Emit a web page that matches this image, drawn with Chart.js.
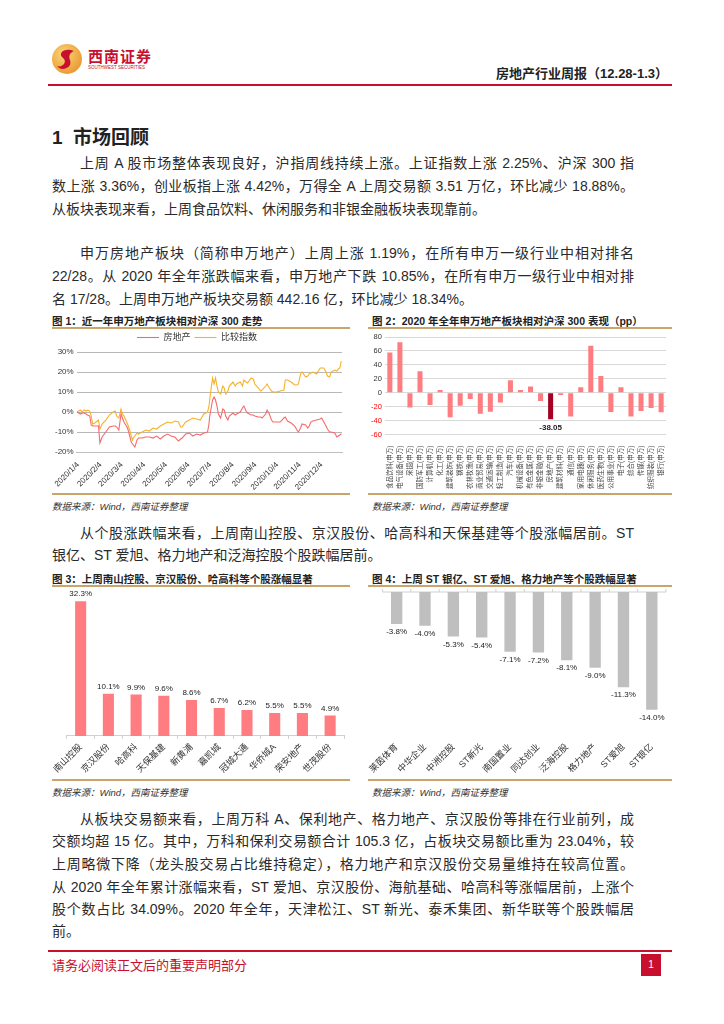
<!DOCTYPE html>
<html lang="zh">
<head>
<meta charset="utf-8">
<title>房地产行业周报</title>
<script src="https://cdn.jsdelivr.net/npm/chart.js@4.4.0/dist/chart.umd.min.js"></script>
<style>
  html, body { margin: 0; padding: 0; background: #fff; }
  body { width: 724px; height: 1024px; position: relative; overflow: hidden;
         font-family: "Liberation Sans", "Noto Sans CJK SC", sans-serif; color: #222; }
  .abs { position: absolute; }
  .ln { position: absolute; left: 52px; width: 582px; font-size: 14px; line-height: 18px;
        color: #2a2a2a; white-space: nowrap; text-align: justify; text-align-last: justify; }
  .ln.ind { left: 80px; width: 554px; }
  .ln.end { text-align-last: left; }
  .figt { position: absolute; font-size: 10.5px; font-weight: bold; white-space: nowrap; }
  .gold { position: absolute; height: 2px; background: #C9A46B; }
  .src { position: absolute; font-size: 9.5px; font-style: italic; color: #333; white-space: nowrap; }
  .box { position: absolute; }
</style>
</head>
<body>

<!-- header -->
<svg class="abs" style="left:51px;top:43px" width="32" height="32" viewBox="0 0 32 32">
  <defs>
    <radialGradient id="g" cx="40%" cy="35%" r="70%">
      <stop offset="0" stop-color="#FBD77A"/>
      <stop offset="1" stop-color="#E9962F"/>
    </radialGradient>
  </defs>
  <circle cx="16" cy="16" r="15" fill="url(#g)"/>
  <path d="M23 8 C14 4 6 10 12 15 C17 19 11 25 6 23 C10 29 22 25 19 17 C17 12 20 9 23 8 Z" fill="#C8102E"/>
</svg>
<div class="abs" style="left:88px;top:45px;font-size:15px;font-weight:bold;color:#C8102E;letter-spacing:1px">西南证券</div>
<div class="abs" style="left:88px;top:65px;font-size:4.5px;color:#C8102E;white-space:nowrap">SOUTHWEST SECURITIES</div>
<div class="abs" style="right:56px;top:63px;font-size:13px;font-weight:bold;white-space:nowrap">房地产行业周报（12.28-1.3）</div>
<div class="abs" style="left:48px;top:84px;width:624px;height:1.5px;background:#C8102E"></div>

<!-- section 1 -->
<div class="abs" style="left:52px;top:122px;font-size:19px;font-weight:bold;white-space:nowrap">1&nbsp;&nbsp;市场回顾</div>

<div class="ln ind" style="top:154px">上周 A 股市场整体表现良好，沪指周线持续上涨。上证指数上涨 2.25%、沪深 300 指</div>
<div class="ln" style="top:177px">数上涨 3.36%，创业板指上涨 4.42%，万得全 A 上周交易额 3.51 万亿，环比减少 18.88%。</div>
<div class="ln end" style="top:200px">从板块表现来看，上周食品饮料、休闲服务和非银金融板块表现靠前。</div>

<div class="ln ind" style="top:244px">申万房地产板块（简称申万地产）上周上涨 1.19%，在所有申万一级行业中相对排名</div>
<div class="ln" style="top:267px">22/28。从 2020 年全年涨跌幅来看，申万地产下跌 10.85%，在所有申万一级行业中相对排</div>
<div class="ln end" style="top:290px">名 17/28。上周申万地产板块交易额 442.16 亿，环比减少 18.34%。</div>

<!-- figure 1 / 2 -->
<div class="figt" style="left:52px;top:313px">图 1：近一年申万地产板块相对沪深 300 走势</div>
<div class="figt" style="left:372px;top:313px">图 2：2020 年全年申万地产板块相对沪深 300 表现（pp）</div>
<div class="gold" style="left:52px;top:327px;width:298px"></div>
<div class="gold" style="left:368px;top:327px;width:304px"></div>
<div class="box" style="left:52px;top:329px;width:298px;height:163px"><canvas id="c1"></canvas></div>
<div class="box" style="left:368px;top:329px;width:304px;height:163px"><canvas id="c2"></canvas></div>
<div class="gold" style="left:52px;top:493px;width:298px"></div>
<div class="gold" style="left:368px;top:493px;width:304px"></div>
<div class="src" style="left:52px;top:499px">数据来源：Wind，西南证券整理</div>
<div class="src" style="left:372px;top:499px">数据来源：Wind，西南证券整理</div>

<div class="ln ind" style="top:524px">从个股涨跌幅来看，上周南山控股、京汉股份、哈高科和天保基建等个股涨幅居前。ST</div>
<div class="ln end" style="top:546px">银亿、ST 爱旭、格力地产和泛海控股个股跌幅居前。</div>

<!-- figure 3 / 4 -->
<div class="figt" style="left:52px;top:571px">图 3：上周南山控股、京汉股份、哈高科等个股涨幅显著</div>
<div class="figt" style="left:372px;top:571px">图 4：上周 ST 银亿、ST 爱旭、格力地产等个股跌幅显著</div>
<div class="gold" style="left:52px;top:585px;width:298px"></div>
<div class="gold" style="left:368px;top:585px;width:304px"></div>
<div class="box" style="left:52px;top:588px;width:298px;height:190px"><canvas id="c3"></canvas></div>
<div class="box" style="left:368px;top:588px;width:304px;height:190px"><canvas id="c4"></canvas></div>
<div class="gold" style="left:52px;top:779px;width:298px"></div>
<div class="gold" style="left:368px;top:779px;width:304px"></div>
<div class="src" style="left:52px;top:785px">数据来源：Wind，西南证券整理</div>
<div class="src" style="left:372px;top:785px">数据来源：Wind，西南证券整理</div>

<div class="ln ind" style="top:810px">从板块交易额来看，上周万科 A、保利地产、格力地产、京汉股份等排在行业前列，成</div>
<div class="ln" style="top:832px">交额均超 15 亿。其中，万科和保利交易额合计 105.3 亿，占板块交易额比重为 23.04%，较</div>
<div class="ln" style="top:855px">上周略微下降（龙头股交易占比维持稳定），格力地产和京汉股份交易量维持在较高位置。</div>
<div class="ln" style="top:878px">从 2020 年全年累计涨幅来看，ST 爱旭、京汉股份、海航基础、哈高科等涨幅居前，上涨个</div>
<div class="ln" style="top:900px">股个数占比 34.09%。2020 年全年，天津松江、ST 新光、泰禾集团、新华联等个股跌幅居</div>
<div class="ln end" style="top:922px">前。</div>

<!-- footer -->
<div class="abs" style="left:48px;top:950px;width:624px;height:1.5px;background:#C8102E"></div>
<div class="abs" style="left:52px;top:955px;font-size:13px;color:#C8102E;white-space:nowrap">请务必阅读正文后的重要声明部分</div>
<div class="abs" style="left:641px;top:954px;width:20px;height:22px;background:#C8102E;color:#fff;font-size:10px;line-height:22px;text-align:center">1</div>

<script>
// ---- Figure 1: 申万地产 vs 沪深300 (daily) ----
const ch1Dates = [
  '1/2','1/5','1/7','1/10','1/12','1/15','1/17','1/20','1/22','1/24',
  '1/27','2/1','2/3','2/6','2/11','2/16','2/21','2/24','2/26','2/29',
  '3/3','3/5','3/7','3/12','3/15','3/17','3/19','3/20','3/22','3/25',
  '3/27','4/1','4/6','4/11','4/16','4/21','4/26','5/1','5/6','5/11',
  '5/16','5/21','5/24','5/26','5/31','6/5','6/10','6/15','6/20','6/25',
  '6/30','7/2','7/3','7/5','7/7','7/9','7/11','7/13','7/15','7/18',
  '7/21','7/23','7/25','7/28','7/30','8/4','8/7','8/9','8/14','8/17',
  '8/19','8/22','8/24','8/29','9/1','9/3','9/8','9/11','9/13','9/18',
  '9/20','9/23','9/26','9/28','10/3','10/8','10/13','10/15','10/18','10/23',
  '10/28','10/31','11/2','11/5','11/7','11/12','11/15','11/17','11/19','11/22',
  '11/27','12/2','12/4','12/7','12/10','12/12','12/15','12/17','12/22','12/25',
  '12/27','12/29','12/31'
];
const realEstate = [
  0, -0.5, -1, -0.5, -0.5, -1, -1.5, -2, -6.5, -7,
  -7, -7, -15.5, -12.5, -10, -7.5, -7, -7, -7.5, -9,
  -1, -3, -5, -8, -12, -15, -16, -16.5, -17.5, -14,
  -13, -13, -12.5, -12.5, -13, -12, -13.5, -12, -11, -12,
  -12.5, -14.5, -13.5, -13, -11, -10.5, -12, -11, -11.5, -10.5,
  -10, -6, -2, 2, 6, 7.5, 6, 3, -1, -3,
  1.5, 1, -2, -4, -2, -0.5, -1.5, -1, 0, 2,
  3, 0.5, -0.5, -1.5, -1.5, -2, -2.5, -2.5, -3, -1,
  1, -1, -4, -5, -5, -5, -3, -2.5, -4.5, -5.5,
  -7, -9, -10, -8, -6, -6.5, -8, -7, -5, -4.5,
  -4, -3.5, -3, -5, -7, -8.5, -10, -10, -10.5, -12.5,
  -12, -11.5, -10.85
];
const compareIdx = [
  0, 0.5, 1, 0, 1, 0.5, 1, 0.5, -2, -6,
  -5.5, -4, -8.5, -6, -4, -1.5, 0, 0.5, -2, -3,
  1.5, -1, -2, -6, -9, -12, -14, -13, -12, -10.5,
  -11, -10, -9, -9.5, -8, -8.5, -7, -6, -5, -5.5,
  -4.5, -5, -7.5, -7.5, -5, -4, -3, -3.5, -4, -1,
  0, 3, 6, 12, 17, 14, 17, 13, 10, 9,
  13, 12, 9, 10.5, 13, 15, 13, 14, 15, 13,
  16, 15, 14.5, 17, 16.5, 14, 12, 10.5, 11, 13,
  14, 12, 10.5, 10, 10, 10.5, 11, 16, 16, 15,
  13.5, 13.5, 14, 19, 20, 17.5, 18, 19, 19.5, 20,
  19, 22, 22, 22, 20, 18, 17.5, 20, 21, 20.5,
  21.5, 22, 25.5
];
const ch1TickLabels = ['2020/1/4','2020/2/4','2020/3/4','2020/4/4','2020/5/4','2020/6/4',
  '2020/7/4','2020/8/4','2020/9/4','2020/10/4','2020/11/4','2020/12/4'];

// ---- Figure 2: 2020 申万一级行业相对沪深300 (pp) ----
const industries = ['食品饮料(申万)','电气设备(申万)','采掘(申万)','国防军工(申万)','计算机(申万)',
  '化工(申万)','建筑装饰(申万)','钢铁(申万)','农林牧渔(申万)','商业贸易(申万)','交通运输(申万)',
  '轻工制造(申万)','汽车(申万)','机械设备(申万)','有色金属(申万)','非银金融(申万)','房地产(申万)',
  '建筑材料(申万)','通信(申万)','家用电器(申万)','休闲服务(申万)','医药生物(申万)','公用事业(申万)',
  '电子(申万)','综合(申万)','传媒(申万)','纺织服装(申万)','银行(申万)'];
const industryRel = [57.9, 72.6, -21, 31, -17.5, 3.9, -35, -18.6, -9, -30, -27, -14, 18, 4, 9,
  -11.7, -38.05, -3, -34, 7.8, 67.6, 24, -27.6, 7.8, -34, -26, -21.7, -28];
const highlightIndustry = '房地产(申万)';

// ---- Figure 3 / 4: 个股周涨跌幅 (%) ----
const gainers = ['南山控股','京汉股份','哈高科','天保基建','新黄浦','嘉凯城','冠城大通','华侨城A','荣安地产','世茂股份'];
const gainPct = [32.3, 10.1, 9.9, 9.6, 8.6, 6.7, 6.2, 5.5, 5.5, 4.9];
const losers = ['莱茵体育','中华企业','中洲控股','ST新光','南国置业','同达创业','泛海控股','格力地产','ST爱旭','ST银亿'];
const lossPct = [-3.8, -4.0, -5.3, -5.4, -7.1, -7.2, -8.1, -9.0, -11.3, -14.0];

Chart.defaults.font.family = '"Liberation Sans", "Noto Sans CJK SC", sans-serif';
Chart.defaults.color = '#333';
Chart.defaults.animation = false;

function dayOfYear(md) {
  const p = md.split('/').map(Number);
  return (Date.UTC(2020, p[0] - 1, p[1]) - Date.UTC(2020, 0, 1)) / 864e5 + 1;
}
const ch1TickDays = ch1TickLabels.map(s => dayOfYear(s.slice(5)));

// value labels on bars
function barLabels(fmt, font, onlyIndex) {
  return {
    id: 'barLabels',
    afterDatasetsDraw(chart) {
      const ctx = chart.ctx;
      const ds = chart.data.datasets[0];
      ctx.save();
      ctx.font = font;
      ctx.fillStyle = '#222';
      ctx.textAlign = 'center';
      chart.getDatasetMeta(0).data.forEach((bar, i) => {
        if (onlyIndex !== undefined && i !== onlyIndex) return;
        const v = ds.data[i];
        if (v >= 0) { ctx.textBaseline = 'bottom'; ctx.fillText(fmt(v), bar.x, bar.y - 3); }
        else { ctx.textBaseline = 'top'; ctx.fillText(fmt(v), bar.x, bar.y + 4); }
      });
      ctx.restore();
    }
  };
}

// zero line with small category ticks (figure 4 hangs from the top)
const zeroLine = {
  id: 'zeroLine',
  beforeDatasetsDraw(chart) {
    const x = chart.scales.x, y = chart.scales.y;
    const y0 = y.getPixelForValue(0);
    const n = chart.data.labels.length;
    const ctx = chart.ctx;
    ctx.save();
    ctx.strokeStyle = '#D0D0D0';
    ctx.lineWidth = 1;
    ctx.beginPath();
    ctx.moveTo(x.left, y0); ctx.lineTo(x.right, y0);
    for (let i = 0; i <= n; i++) {
      const px = x.left + i * x.width / n;
      ctx.moveTo(px, y0); ctx.lineTo(px, y0 - 3);
    }
    ctx.stroke();
    ctx.restore();
  }
};

// Figure 1
new Chart(document.getElementById('c1'), {
  type: 'line',
  data: {
    datasets: [
      { label: '房地产', data: ch1Dates.map((d, i) => ({ x: dayOfYear(d), y: realEstate[i] })),
        borderColor: '#F8696B', borderWidth: 1.1, pointRadius: 0, tension: 0 },
      { label: '比较指数', data: ch1Dates.map((d, i) => ({ x: dayOfYear(d), y: compareIdx[i] })),
        borderColor: '#F5B22A', borderWidth: 1.1, pointRadius: 0, tension: 0 }
    ]
  },
  options: {
    responsive: true, maintainAspectRatio: false,
    layout: { padding: { left: 0, right: 8, top: 0, bottom: 0 } },
    plugins: {
      legend: { position: 'top', labels: { usePointStyle: true, pointStyle: 'line', pointStyleWidth: 22,
        boxHeight: 5, font: { size: 9 }, padding: 4, color: '#333' } },
      tooltip: { enabled: false }
    },
    scales: {
      x: {
        type: 'linear', min: 2, max: 367,
        afterBuildTicks: axis => { axis.ticks = ch1TickDays.map(v => ({ value: v })); },
        ticks: { autoSkip: false, minRotation: 45, maxRotation: 45, font: { size: 8 }, padding: 0,
          callback: v => ch1TickLabels[ch1TickDays.indexOf(v)] || '' },
        grid: { display: false },
        border: { color: '#BFBFBF' }
      },
      y: {
        min: -20, max: 30,
        ticks: { stepSize: 5, font: { size: 8 }, padding: 3, callback: v => v + '%' },
        grid: { color: '#B8B8B8', drawTicks: false },
        border: { display: false }
      }
    }
  }
});

// Figure 2
new Chart(document.getElementById('c2'), {
  type: 'bar',
  data: {
    labels: industries,
    datasets: [{ data: industryRel,
      backgroundColor: industries.map(n => n === highlightIndustry ? '#A50021' : '#FF7C80'),
      barPercentage: 0.5, categoryPercentage: 1 }]
  },
  options: {
    responsive: true, maintainAspectRatio: false,
    layout: { padding: { left: 0, right: 4, top: 8, bottom: 0 } },
    plugins: { legend: { display: false }, tooltip: { enabled: false } },
    scales: {
      x: {
        ticks: { autoSkip: false, minRotation: 90, maxRotation: 90, font: { size: 6.5 }, color: '#444' },
        grid: { display: false },
        border: { display: false }
      },
      y: {
        min: -60, max: 80,
        ticks: { stepSize: 20, font: { size: 7.5 }, color: c => c.tick.value < 0 ? '#FF0000' : '#333' },
        grid: { color: '#D9D9D9', drawTicks: false },
        border: { display: false }
      }
    }
  },
  plugins: [barLabels(v => v.toFixed(2), 'bold 8px "Liberation Sans"', industries.indexOf(highlightIndustry))]
});

// Figure 3
new Chart(document.getElementById('c3'), {
  type: 'bar',
  data: { labels: gainers,
    datasets: [{ data: gainPct, backgroundColor: '#FF7C80', barPercentage: 0.4, categoryPercentage: 1 }] },
  options: {
    responsive: true, maintainAspectRatio: false,
    layout: { padding: { left: 4, right: 6, top: 4, bottom: 0 } },
    plugins: { legend: { display: false }, tooltip: { enabled: false } },
    scales: {
      x: {
        ticks: { autoSkip: false, minRotation: 45, maxRotation: 45, font: { size: 9 }, color: '#333' },
        grid: { display: true, offset: true, drawOnChartArea: false, tickLength: 3, color: '#D0D0D0' },
        border: { color: '#D0D0D0' }
      },
      y: { display: false, min: 0, max: 34.5 }
    }
  },
  plugins: [barLabels(v => v.toFixed(1) + '%', '8px "Liberation Sans"')]
});

// Figure 4
new Chart(document.getElementById('c4'), {
  type: 'bar',
  data: { labels: losers,
    datasets: [{ data: lossPct, backgroundColor: '#BFBFBF', barPercentage: 0.4, categoryPercentage: 1 }] },
  options: {
    responsive: true, maintainAspectRatio: false,
    layout: { padding: { left: 4, right: 6, top: 4, bottom: 0 } },
    plugins: { legend: { display: false }, tooltip: { enabled: false } },
    scales: {
      x: {
        ticks: { autoSkip: false, minRotation: 45, maxRotation: 45, font: { size: 9 }, color: '#333' },
        grid: { display: false },
        border: { display: false }
      },
      y: { display: false, min: -16.5, max: 0 }
    }
  },
  plugins: [zeroLine, barLabels(v => v.toFixed(1) + '%', '8px "Liberation Sans"')]
});
</script>
</body>
</html>
